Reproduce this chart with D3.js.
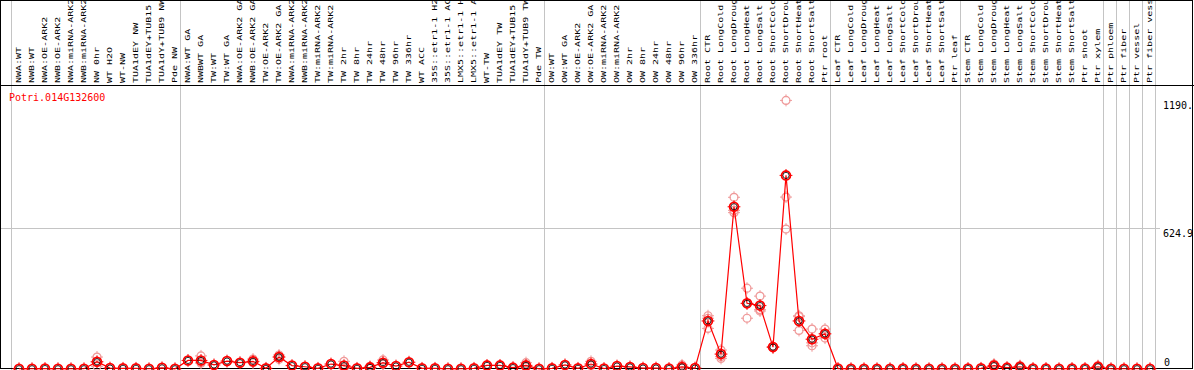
<!DOCTYPE html>
<html>
<head>
<meta charset="utf-8">
<script src="https://cdn.jsdelivr.net/npm/d3@7"></script>
<style>
  body { margin: 0; background: #fff; }
  svg { display: block; }
</style>
</head>
<body>
<div id="chart"></div>
<script>
// sample labels, in plotting order
const categories = [
  "NWA:WT", "NWB:WT", "NWA:OE-ARK2", "NWB:OE-ARK2", "NWA:miRNA-ARK2", "NWB:miRNA-ARK2",
  "NW 0hr", "WT H2O", "WT-NW", "TUA1dEY NW", "TUA1dEY+TUB15 NW", "TUA1dY+TUB9 NW", "Pde NW",
  "NWA:WT GA", "NWBWT GA", "TW:WT", "TW:WT GA", "NWA:OE-ARK2 GA", "NWB:OE-ARK2 GA",
  "TW:OE-ARK2", "TW:OE-ARK2 GA", "NWA:miRNA-ARK2 GA", "NWB:miRNA-ARK2 GA", "TW:miRNA-ARK2",
  "TW:miRNA-ARK2", "TW 2hr", "TW 8hr", "TW 24hr", "TW 48hr", "TW 96hr", "TW 336hr", "WT ACC",
  "35S::etr1-1 H2O", "35S::etr1-1 ACC", "LMX5::etr1-1 H2O", "LMX5::etr1-1 ACC", "WT-TW",
  "TUA1dEY TW", "TUA1dEY+TUB15 TW", "TUA1dY+TUB9 TW", "Pde TW",
  "OW:WT", "OW:WT GA", "OW:OE-ARK2", "OW:OE-ARK2 GA", "OW:miRNA-ARK2", "OW:miRNA-ARK2",
  "OW 2hr", "OW 8hr", "OW 24hr", "OW 48hr", "OW 96hr", "OW 336hr",
  "Root CTR", "Root LongCold", "Root LongDrought", "Root LongHeat", "Root LongSalt",
  "Root ShortCold", "Root ShortDrought", "Root ShortHeat", "Root ShortSalt", "Ptr root",
  "Leaf CTR", "Leaf LongCold", "Leaf LongDrought", "Leaf LongHeat", "Leaf LongSalt",
  "Leaf ShortCold", "Leaf ShortDrought", "Leaf ShortHeat", "Leaf ShortSalt", "Ptr leaf",
  "Stem CTR", "Stem LongCold", "Stem LongDrought", "Stem LongHeat", "Stem LongSalt",
  "Stem ShortCold", "Stem ShortDrought", "Stem ShortHeat", "Stem ShortSalt", "Ptr shoot",
  "Ptr xylem", "Ptr phloem", "Ptr fiber", "Ptr vessel", "Ptr fiber vessel"
];

// number of samples in each separated block
const groupSizes = [13, 28, 12, 10, 10, 11, 1, 1, 1, 1];

// mean expression per sample
const meanValues = [
  1, 1, 2, 1, 1, 1, 32, 4, 3, 3, 1, 5, 1,
  38, 38, 18, 35, 28, 34, 3, 53, 15, 10, 3, 22, 15, 3, 7, 28, 13, 30, 3, 3, 1, 1, 3, 16, 16, 6, 16, 1,
  3, 18, 3, 22, 2, 13, 9, 4, 4, 2, 9, 4,
  213, 66, 719, 291, 281, 97, 858, 213, 132, 156,
  2, 1, 1, 1, 1, 2, 1, 1, 1, 1,
  2, 3, 15, 6, 10, 2, 2, 1, 2, 2, 10,
  1, 1, 1, 1
];

// individual replicates where they stand apart from the mean
const replicateValues = {
  6: [53, 12, 31],
  14: [58, 30, 26],
  18: [44, 28, 30],
  20: [62, 43, 54],
  25: [34, 5, 6],
  27: [12, 5, 4],
  28: [40, 22, 22],
  39: [28, 12, 8],
  44: [34, 16, 16],
  51: [18, 5, 4],
  53: [236, 225, 180],
  54: [84, 55, 47],
  55: [761, 693, 703],
  56: [358, 225, 290],
  57: [323, 257, 263],
  58: [100, 95, 96],
  59: [1190.4, 762, 620],
  60: [236, 232, 171],
  61: [177, 103, 116],
  62: [177, 137, 155],
  75: [22, 12, 11],
  77: [15, 8, 7],
  83: [15, 8, 7]
};

const yTickValues = [0, 624.9, 1190.4];
const yTickLabels = ["0", "624.9", "1190.4"];
const geneName = "Potri.014G132600";

const width = 1194;
const height = 370;
const headerBottom = 85;
const mono = "'DejaVu Sans Mono', 'Liberation Mono', monospace";

const svg = d3.select("#chart")
  .append("svg")
  .attr("width", width)
  .attr("height", height);

const x = d3.scaleLinear()
  .domain([0, categories.length - 1])
  .range([19, 19 + (categories.length - 1) * 13]);

const y = d3.scaleLinear()
  .domain([0, 624.9])
  .range([369, 228]);

// block separators
const starts = [0];
groupSizes.forEach(n => starts.push(starts[starts.length - 1] + n));

svg.append("g")
  .selectAll("line")
  .data(starts)
  .enter().append("line")
  .attr("x1", d => Math.round(x(d) - 8) + 0.5)
  .attr("x2", d => Math.round(x(d) - 8) + 0.5)
  .attr("y1", 0)
  .attr("y2", height)
  .style("stroke", "#c4c4c4")
  .style("stroke-width", 1);

// middle gridline
svg.append("line")
  .attr("x1", 0)
  .attr("x2", 1160)
  .attr("y1", Math.round(y(624.9)) + 0.5)
  .attr("y2", Math.round(y(624.9)) + 0.5)
  .style("stroke", "#c4c4c4");

// frame
svg.append("rect")
  .attr("x", 0.5).attr("y", 0.5)
  .attr("width", 1192).attr("height", 368)
  .style("fill", "none")
  .style("stroke", "#000");

svg.append("line")
  .attr("x1", 0).attr("x2", width)
  .attr("y1", headerBottom + 0.5).attr("y2", headerBottom + 0.5)
  .style("stroke", "#000");

// rotated sample labels (long ones run off the top, as in the source)
svg.append("g")
  .selectAll("text")
  .data(categories)
  .enter().append("text")
  .attr("transform", (d, i) => `translate(${x(i) + 1.5},${headerBottom - 2}) rotate(-90) scale(1.43,1)`)
  .style("font-family", mono)
  .style("font-size", "7px")
  .style("fill", "#000")
  .text(d => d);

// gene name
svg.append("text")
  .attr("x", 9)
  .attr("y", 101)
  .style("font-family", mono)
  .style("font-size", "10px")
  .style("fill", "#ff0000")
  .text(geneName);

// y labels
svg.append("defs").append("clipPath")
  .attr("id", "inside")
  .append("rect")
  .attr("x", 0).attr("y", 0).attr("width", 1192).attr("height", height);

svg.append("g")
  .attr("clip-path", "url(#inside)")
  .selectAll("text")
  .data(yTickValues)
  .enter().append("text")
  .attr("x", (d, i) => i === 0 ? 1164 : 1163)
  .attr("y", d => Math.min(y(d) + 9, y(0) - 3.5))
  .style("font-family", mono)
  .style("font-size", "10px")
  .style("fill", "#000")
  .text((d, i) => yTickLabels[i]);

const plot = svg.append("g");

// replicate markers
const reps = [];
Object.keys(replicateValues).forEach(k => {
  replicateValues[k].forEach(v => reps.push({ i: +k, v: v }));
});

function marker(sel, color, r, w) {
  sel.append("circle")
    .attr("r", r)
    .style("fill", "none")
    .style("stroke", color)
    .style("stroke-width", w);
  sel.append("path")
    .attr("d", `M0,${-r - 2}V${-r + 1}M0,${r - 1}V${r + 2}M${-r - 2},0H${-r + 1}M${r - 1},0H${r + 2}`)
    .style("stroke", color)
    .style("stroke-width", 1);
}

plot.append("g")
  .selectAll("g")
  .data(reps)
  .enter().append("g")
  .attr("transform", d => `translate(${x(d.i)},${y(d.v)})`)
  .call(marker, "#ef9a9a", 4, 1.2);

// mean line
const line = d3.line()
  .x((d, i) => x(i))
  .y(d => y(d));

plot.append("path")
  .datum(meanValues)
  .attr("d", line)
  .style("fill", "none")
  .style("stroke", "#ff0000")
  .style("stroke-width", 1.2);

// mean markers
const means = plot.append("g")
  .selectAll("g")
  .data(meanValues)
  .enter().append("g")
  .attr("transform", (d, i) => `translate(${x(i)},${y(d)})`);

means.call(marker, "#ff0000", 4.4, 1.8);
means.append("circle")
  .attr("r", 3.1)
  .style("fill", "none")
  .style("stroke", "#000")
  .style("stroke-width", 0.8);
</script>
</body>
</html>
